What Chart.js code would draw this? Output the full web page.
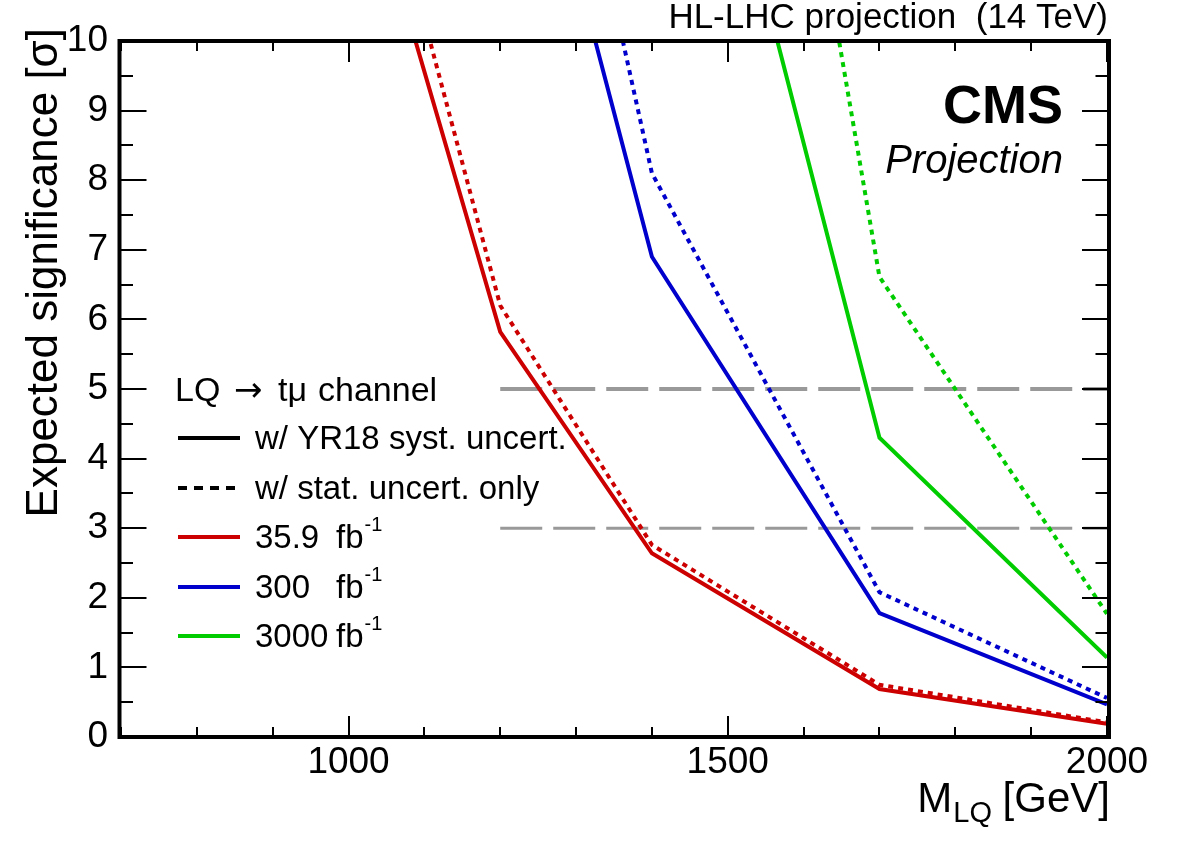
<!DOCTYPE html>
<html>
<head>
<meta charset="utf-8">
<script src="https://cdn.jsdelivr.net/npm/chart.js@4.4.1/dist/chart.umd.min.js"></script>
<style>
  html, body { margin: 0; padding: 0; background: #fff; overflow: hidden; }
  canvas { display: block; }
</style>
</head>
<body>
<canvas id="c" width="1182" height="848"></canvas>
<script>
// ---- data ----
const masses = [1000, 1200, 1400, 1700, 2000];           // M_LQ [GeV]
const red_syst   = [13.3, 5.82, 2.64, 0.69, 0.19];        // 35.9 fb-1, YR18 syst.
const red_stat   = [14.4, 6.20, 2.76, 0.75, 0.21];        // 35.9 fb-1, stat only
const blue_syst  = [null, 15.2, 6.90, 1.78, 0.47];        // 300 fb-1, YR18 syst.
const blue_stat  = [null, 18.0, 8.10, 2.08, 0.56];        // 300 fb-1, stat only
const green_syst = [null, null, 17.0, 4.30, 1.14];        // 3000 fb-1, YR18 syst.
const green_stat = [null, null, 25.7, 6.61, 1.77];        // 3000 fb-1, stat only
const thresholdLevels = [5, 3];                            // sigma reference lines
const thresholdRange = [1200, 2000];                       // x extent of reference lines
const xLabelTicks = [1000, 1500, 2000];
const legendLumis = ['35.9', '300', '3000'];

const RED = '#cc0000', BLUE = '#0000cc', GREEN = '#00cc00', GRAY = '#999999';
const FONT = "'Liberation Sans', Arial, Helvetica, sans-serif";

function pts(ys) {
  const out = [];
  masses.forEach((m, i) => { if (ys[i] !== null) out.push({x: m, y: ys[i]}); });
  return out;
}
function line(ys, color, dotted) {
  return {
    data: pts(ys), borderColor: color, borderWidth: 4, pointRadius: 0,
    borderDash: dotted ? [5, 5] : [], fill: false, tension: 0,
    borderJoinStyle: 'miter', borderCapStyle: 'butt'
  };
}
function hline(level, width) {
  return {
    data: thresholdRange.map(x => ({x: x, y: level})),
    borderColor: GRAY, borderWidth: width, pointRadius: 0,
    borderDash: [42, 11], fill: false, borderCapStyle: 'butt'
  };
}

const datasets = [
  line(red_syst, RED, false), line(red_stat, RED, true),
  line(blue_syst, BLUE, false), line(blue_stat, BLUE, true),
  line(green_syst, GREEN, false), line(green_stat, GREEN, true),
  hline(thresholdLevels[0], 4), hline(thresholdLevels[1], 3)
];

const decor = {
  id: 'decor',
  afterDraw(chart) {
    const ctx = chart.ctx;
    const a = chart.chartArea;
    const xs = chart.scales.x, ys = chart.scales.y;
    ctx.save();
    // frame
    const fl = a.left - 1.5, fr = a.right + 2, ft = a.top, fb = a.bottom;
    ctx.strokeStyle = '#000';
    ctx.lineWidth = 4;
    ctx.strokeRect(fl, ft, fr - fl, fb - ft);
    // ticks
    ctx.lineWidth = 2;
    ctx.beginPath();
    for (let v = 700; v <= 2000; v += 100) {
      const px = Math.round(xs.getPixelForValue(v));
      const len = (v % 500 === 0) ? 21 : 10;
      ctx.moveTo(px, fb); ctx.lineTo(px, fb - len);
      ctx.moveTo(px, ft); ctx.lineTo(px, ft + len);
    }
    for (let k = 0; k <= 20; k++) {
      const v = k / 2;
      const py = Math.round(ys.getPixelForValue(v));
      const len = (k % 2 === 0) ? 27 : 13.5;
      ctx.moveTo(fl, py); ctx.lineTo(fl + len, py);
      ctx.moveTo(fr, py); ctx.lineTo(fr - len, py);
    }
    ctx.stroke();

    ctx.fillStyle = '#000';
    ctx.textBaseline = 'alphabetic';
    // top-right header
    ctx.font = '35px ' + FONT;
    ctx.textAlign = 'right';
    ctx.fillText('HL-LHC projection  (14 TeV)', 1108, 28);
    // CMS / Projection
    ctx.font = 'bold 54px ' + FONT;
    ctx.fillText('CMS', 1063, 123);
    ctx.font = 'italic 40px ' + FONT;
    ctx.fillText('Projection', 1063, 173);

    // y title
    ctx.save();
    ctx.translate(57, 28);
    ctx.rotate(-Math.PI / 2);
    ctx.font = '44px ' + FONT;
    ctx.textAlign = 'right';
    ctx.fillText('Expected significance [\u03C3]', 0, 0);
    ctx.restore();

    // x title: M_LQ [GeV], right aligned at 1110
    ctx.textAlign = 'left';
    ctx.font = '42px ' + FONT;
    const wTail = ctx.measureText(' [GeV]').width;
    const wM = ctx.measureText('M').width;
    ctx.font = '29px ' + FONT;
    const wSub = ctx.measureText('LQ').width;
    let xr = 1110 - wTail - wSub - wM;
    ctx.font = '42px ' + FONT;
    ctx.fillText('M', xr, 812);
    ctx.font = '29px ' + FONT;
    ctx.fillText('LQ', xr + wM + 1, 822);
    ctx.font = '42px ' + FONT;
    ctx.fillText(' [GeV]', xr + wM + wSub, 812);

    // legend header
    ctx.font = '34px ' + FONT;
    ctx.fillText('LQ', 175, 401);
    ctx.font = "34px 'DejaVu Sans', " + FONT;
    ctx.fillText('\u2192', 234, 401);
    ctx.font = '34px ' + FONT;
    ctx.fillText('t\u03BC', 278, 401);
    ctx.fillText('channel', 318, 401);

    const entries = [
      {y: 438, color: '#000', dash: [], text: 'w/ YR18 syst. uncert.'},
      {y: 488, color: '#000', dash: [9, 7], text: 'w/ stat. uncert. only'},
      {y: 537, color: RED, dash: [], lumi: legendLumis[0]},
      {y: 587, color: BLUE, dash: [], lumi: legendLumis[1]},
      {y: 636, color: GREEN, dash: [], lumi: legendLumis[2]}
    ];
    entries.forEach(e => {
      ctx.save();
      ctx.strokeStyle = e.color;
      ctx.lineWidth = 4;
      ctx.lineCap = 'butt';
      ctx.setLineDash(e.dash);
      ctx.beginPath();
      ctx.moveTo(178, e.y); ctx.lineTo(e.dash.length ? 235 : 240, e.y);
      ctx.stroke();
      ctx.restore();
      ctx.fillStyle = '#000';
      ctx.font = '33px ' + FONT;
      const base = e.y + 11;
      if (e.text) {
        ctx.fillText(e.text, 255, base);
      } else {
        ctx.fillText(e.lumi, 255, base);
        ctx.fillText('fb', 336, base);
        const wfb = ctx.measureText('fb').width;
        ctx.font = '20px ' + FONT;
        ctx.fillText('-1', 336 + wfb + 1, base - 17);
      }
    });
    ctx.restore();
  }
};

Chart.defaults.font.family = FONT;
Chart.defaults.color = '#000';

new Chart(document.getElementById('c'), {
  type: 'line',
  data: { datasets: datasets },
  options: {
    responsive: false,
    devicePixelRatio: 1,
    animation: false,
    events: [],
    layout: { padding: { top: 41, right: 75, left: 0, bottom: 0 } },
    plugins: { legend: { display: false }, tooltip: { enabled: false }, title: { display: false } },
    scales: {
      x: {
        type: 'linear', position: 'bottom', min: 700, max: 2000,
        grid: { display: false, drawTicks: false },
        border: { display: false },
        ticks: {
          stepSize: 100, autoSkip: false, maxRotation: 0, minRotation: 0,
          padding: 4, font: { size: 37 }, color: '#000',
          callback: (v) => xLabelTicks.includes(v) ? String(v) : ''
        },
        afterFit: (s) => { s.height = 111; }
      },
      y: {
        type: 'linear', min: 0, max: 10,
        grid: { display: false, drawTicks: false },
        border: { display: false },
        ticks: { stepSize: 1, padding: 13, font: { size: 37 }, color: '#000' },
        afterFit: (s) => { s.width = 121; }
      }
    }
  },
  plugins: [decor]
});
</script>
</body>
</html>
